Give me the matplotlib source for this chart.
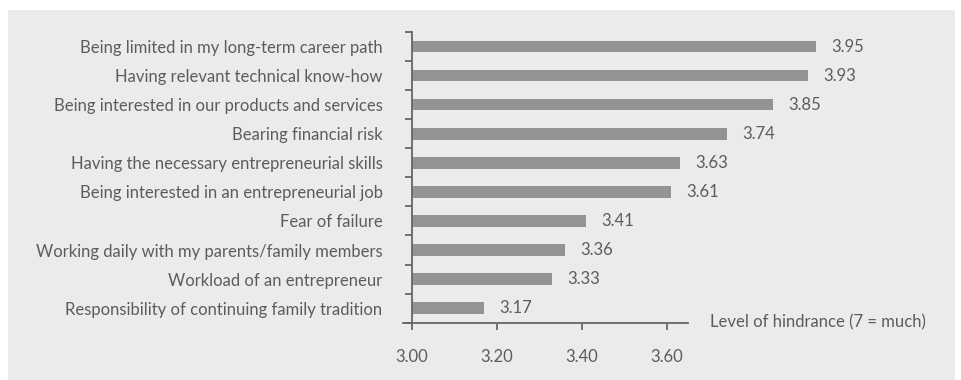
import matplotlib
matplotlib.use('Agg')
import matplotlib.pyplot as plt
from matplotlib.patches import Rectangle
from matplotlib.ticker import FixedLocator

# Reasons hindering a move into the family business, mean scores
factors = [
    'Being limited in my long-term career path',
    'Having relevant technical know-how',
    'Being interested in our products and services',
    'Bearing financial risk',
    'Having the necessary entrepreneurial skills',
    'Being interested in an entrepreneurial job',
    'Fear of failure',
    'Working daily with my parents/family members',
    'Workload of an entrepreneur',
    'Responsibility of continuing family tradition',
]
scores = [3.95, 3.93, 3.85, 3.74, 3.63, 3.61, 3.41, 3.36, 3.33, 3.17]
x_ticks = [3.00, 3.20, 3.40, 3.60]

TEXT = '#5c5c5c'
BAR = '#939393'
PANEL = '#ebebeb'
AXIS = '#666666'
FS = 12

plt.rcParams['font.family'] = ['Lato', 'DejaVu Sans']

W, H = 962, 380
fig = plt.figure(figsize=(W / 100, H / 100), dpi=100)
fig.patch.set_facecolor('white')
fig.patches.append(Rectangle((8 / W, 0), (955 - 8) / W, (H - 10) / H,
                             transform=fig.transFigure, facecolor=PANEL,
                             edgecolor='none', zorder=-10))

# 425.6 px per unit on x
px_per_unit = 425.6
x0, x1 = 2.98, 4.20
left_px = 411.7 - (3.0 - x0) * px_per_unit
ax = fig.add_axes([left_px / W, 57.3 / H, (x1 - x0) * px_per_unit / W, 290.7 / H])
ax.set_facecolor('none')

n = len(factors)
ypos = list(range(n - 1, -1, -1))
ax.barh(ypos, [s - 3.0 for s in scores], left=3.0, height=0.4, color=BAR, zorder=2)
for y, s in zip(ypos, scores):
    ax.annotate(f'{s:.2f}', (s, y), xytext=(11, 0), textcoords='offset points',
                ha='left', va='center', fontsize=FS, color=TEXT)

ax.set_xlim(x0, x1)
ax.set_ylim(-0.5, n - 0.5)

for sp in ['top', 'right']:
    ax.spines[sp].set_visible(False)
ax.spines['left'].set_position(('data', 3.0))
ax.spines['left'].set_bounds(-0.5, n - 0.5)
ax.spines['bottom'].set_bounds(2.98, 3.65)
for sp in ['left', 'bottom']:
    ax.spines[sp].set_color(AXIS)
    ax.spines[sp].set_linewidth(1.3)

ax.set_yticks(ypos)
ax.set_yticklabels(factors)
ax.yaxis.set_minor_locator(FixedLocator([i - 0.5 for i in range(n + 1)]))
ax.tick_params(axis='y', which='major', length=0, pad=21, labelsize=FS, labelcolor=TEXT)
ax.tick_params(axis='y', which='minor', length=5, width=1.3, color=AXIS, direction='out')

ax.set_xticks(x_ticks)
ax.set_xticklabels([f'{t:.2f}' for t in x_ticks])
ax.tick_params(axis='x', length=5, width=1.3, color=AXIS, direction='out', pad=14,
               labelsize=FS, labelcolor=TEXT)

ax.text(3.70, -0.5, 'Level of hindrance (7 = much)', ha='left', va='center',
        fontsize=FS, color=TEXT)

fig.savefig('out.png', dpi=100, facecolor='white')
